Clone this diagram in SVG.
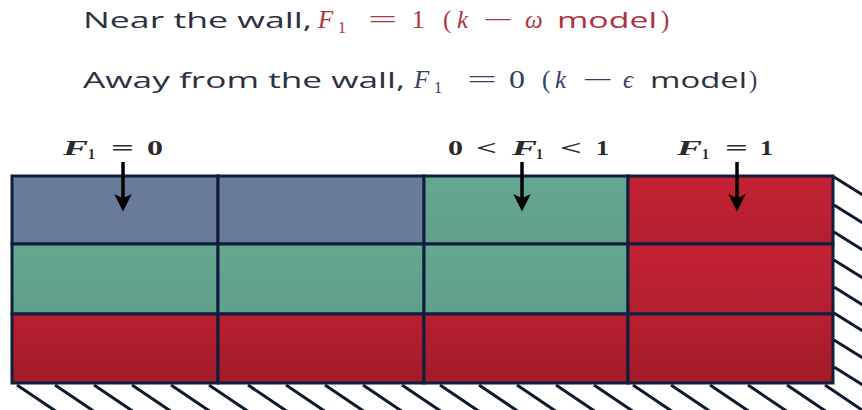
<svg xmlns="http://www.w3.org/2000/svg" width="862" height="410" viewBox="0 0 862 410">
<style>
.t{font-family:"Open Sans","DejaVu Sans",sans-serif;font-size:22px;fill:#2b3140}
.m{font-family:"Liberation Serif","DejaVu Serif",serif;font-size:25px}
.s{font-family:"Liberation Serif","DejaVu Serif",serif;font-size:16px}
.i{font-style:italic}
.red{fill:#b0323f}
.blu{fill:#34405e}
.lab{font-family:"Liberation Serif","DejaVu Serif",serif;font-size:21px;font-weight:bold;fill:#2a2a2a}
.lsub{font-family:"Liberation Serif","DejaVu Serif",serif;font-size:14px;font-weight:bold;fill:#2a2a2a}
.cell{stroke:#0d1f3c;stroke-width:3}
.hat{stroke:#0d1a2e;stroke-width:3}
.arr{stroke:#000;stroke-width:3.5;fill:none}
</style>
<defs>
<linearGradient id="rg" x1="0" y1="0" x2="0" y2="1"><stop offset="0" stop-color="#c42233"/><stop offset="1" stop-color="#b11f2f"/></linearGradient>
<linearGradient id="rb" x1="0" y1="0" x2="0" y2="1"><stop offset="0" stop-color="#b91f30"/><stop offset="1" stop-color="#a11b29"/></linearGradient>
<linearGradient id="tg" x1="0" y1="0" x2="0" y2="1"><stop offset="0" stop-color="#66a792"/><stop offset="1" stop-color="#5f9f8b"/></linearGradient>
<marker id="ah" markerWidth="5" markerHeight="5" refX="4" refY="2.5" orient="auto" markerUnits="strokeWidth"><path d="M0,0 L5,2.5 L0,5 L1.2,2.5 Z" fill="#000"/></marker>
</defs>
<g id="title1">
<text class="t" x="83" y="28" textLength="229" lengthAdjust="spacingAndGlyphs">Near the wall,</text>
<text class="m i red" x="318" y="28" font-size="27">F</text>
<text class="s red" x="338" y="33">1</text>
<text class="m red" x="368" y="28" textLength="29" lengthAdjust="spacingAndGlyphs">=</text>
<text class="m red" x="412" y="28">1</text>
<text class="m red" x="443" y="28">(</text>
<text class="m i red" x="457" y="28">k</text>
<text class="m red" x="483" y="28" textLength="30" lengthAdjust="spacingAndGlyphs">−</text>
<text class="m i red" x="525" y="28">ω</text>
<text class="t red" x="557" y="28" textLength="100" lengthAdjust="spacingAndGlyphs">model</text>
<text class="m red" x="661" y="28">)</text>
</g>
<g id="title2">
<text class="t" x="83" y="88" textLength="322" lengthAdjust="spacingAndGlyphs">Away from the wall,</text>
<text class="m i blu" x="414" y="88" font-size="27">F</text>
<text class="s blu" x="434" y="93">1</text>
<text class="m blu" x="467" y="88" textLength="30" lengthAdjust="spacingAndGlyphs">=</text>
<text class="m blu" x="509" y="88" textLength="16" lengthAdjust="spacingAndGlyphs">0</text>
<text class="m blu" x="542" y="88">(</text>
<text class="m i blu" x="555" y="88">k</text>
<text class="m blu" x="582" y="88" textLength="31" lengthAdjust="spacingAndGlyphs">−</text>
<text class="m i blu" x="623" y="88">ϵ</text>
<text class="t" x="650" y="88" textLength="97" lengthAdjust="spacingAndGlyphs">model</text>
<text class="m blu" x="749" y="88">)</text>
</g>
<g id="grid">
<rect class="cell" x="12" y="176" width="206" height="68" fill="#687b99"/>
<rect class="cell" x="218" y="176" width="206" height="68" fill="#687b99"/>
<rect class="cell" x="424" y="176" width="204" height="68" fill="url(#tg)"/>
<rect class="cell" x="628" y="176" width="205" height="68" fill="url(#rg)"/>
<rect class="cell" x="12" y="244" width="206" height="70" fill="url(#tg)"/>
<rect class="cell" x="218" y="244" width="206" height="70" fill="url(#tg)"/>
<rect class="cell" x="424" y="244" width="204" height="70" fill="url(#tg)"/>
<rect class="cell" x="628" y="244" width="205" height="70" fill="url(#rg)"/>
<rect class="cell" x="12" y="314" width="206" height="69" fill="url(#rb)"/>
<rect class="cell" x="218" y="314" width="206" height="69" fill="url(#rb)"/>
<rect class="cell" x="424" y="314" width="204" height="69" fill="url(#rb)"/>
<rect class="cell" x="628" y="314" width="205" height="69" fill="url(#rb)"/>
</g>
<g id="walls">
<path class="hat" d="M17,385l40,27M55,385l40,27M94,385l40,27M132,385l40,27M171,385l40,27M209,385l40,27M248,385l40,27M286,385l40,27M325,385l40,27M363,385l40,27M402,385l40,27M440,385l40,27M479,385l40,27M517,385l40,27M556,385l40,27M594,385l40,27M633,385l40,27M671,385l40,27M710,385l40,27M748,385l40,27M787,385l40,27M825,385l40,27"/>
<path class="hat" d="M834,177l32,20M834,205l32,20M834,232l32,20M834,260l32,20M834,287l32,20M834,313l32,20M834,340l32,20M834,367l32,20"/>
</g>
<g id="label-f0">
<text class="lab" x="63" y="155" font-style="italic" textLength="25" lengthAdjust="spacingAndGlyphs">F</text>
<text class="lsub" x="88" y="159">1</text>
<text class="lab" x="111" y="155" textLength="23" lengthAdjust="spacingAndGlyphs">=</text>
<text class="lab" x="147" y="155" textLength="16" lengthAdjust="spacingAndGlyphs">0</text>
</g>
<g id="label-fmid">
<text class="lab" x="448" y="155" textLength="15" lengthAdjust="spacingAndGlyphs">0</text>
<text class="lab" x="476" y="155" textLength="21" lengthAdjust="spacingAndGlyphs">&lt;</text>
<text class="lab" x="512" y="155" font-style="italic" textLength="25" lengthAdjust="spacingAndGlyphs">F</text>
<text class="lsub" x="536" y="159">1</text>
<text class="lab" x="560" y="155" textLength="22" lengthAdjust="spacingAndGlyphs">&lt;</text>
<text class="lab" x="596" y="155" textLength="13" lengthAdjust="spacingAndGlyphs">1</text>
</g>
<g id="label-f1">
<text class="lab" x="677" y="155" font-style="italic" textLength="25" lengthAdjust="spacingAndGlyphs">F</text>
<text class="lsub" x="702" y="159">1</text>
<text class="lab" x="725" y="155" textLength="23" lengthAdjust="spacingAndGlyphs">=</text>
<text class="lab" x="760" y="155" textLength="13" lengthAdjust="spacingAndGlyphs">1</text>
</g>
<g id="connectors">
<line class="arr" x1="123" y1="162" x2="123" y2="208" marker-end="url(#ah)"/>
<line class="arr" x1="522" y1="162" x2="522" y2="208" marker-end="url(#ah)"/>
<line class="arr" x1="737" y1="162" x2="737" y2="208" marker-end="url(#ah)"/>
</g>
</svg>
